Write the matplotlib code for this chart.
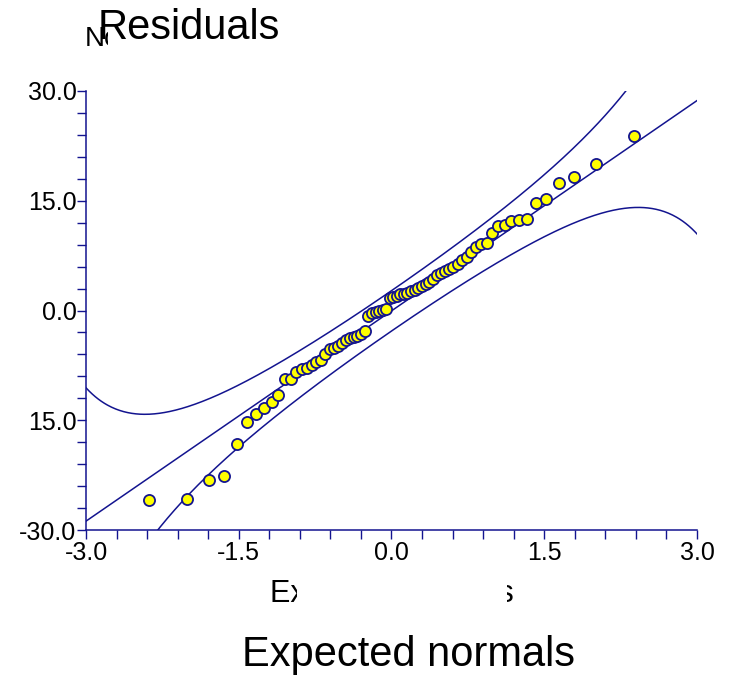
import math
import matplotlib
matplotlib.use("Agg")
import matplotlib.pyplot as plt
import numpy as np
from matplotlib.patches import Rectangle

plt.rcParams["font.family"] = ["Liberation Sans", "DejaVu Sans"]

# expected normal scores (x) and sorted residuals (y)
expected = [-2.380, -2.005, -1.795, -1.643, -1.522, -1.420, -1.330, -1.251,
            -1.178, -1.111, -1.049, -0.991, -0.936, -0.883, -0.833, -0.785,
            -0.738, -0.693, -0.650, -0.608, -0.567, -0.526, -0.487, -0.448,
            -0.410, -0.372, -0.336, -0.299, -0.263, -0.228, -0.192, -0.157,
            -0.122, -0.087, -0.052, -0.017,
            0.017, 0.052, 0.087, 0.122, 0.157, 0.192, 0.228, 0.263,
            0.299, 0.336, 0.372, 0.410, 0.448, 0.487, 0.526, 0.567,
            0.608, 0.650, 0.693, 0.738, 0.785, 0.833, 0.883, 0.936,
            0.991, 1.049, 1.111, 1.178, 1.251, 1.330, 1.420, 1.522,
            1.643, 1.795, 2.005, 2.380]
residuals = [-25.9, -25.7, -23.2, -22.6, -18.2, -15.2, -14.1, -13.3,
             -12.5, -11.5, -9.4, -9.3, -8.4, -8.05, -7.8, -7.45,
             -7.1, -6.7, -6.0, -5.3, -5.15, -4.85, -4.4, -4.1,
             -3.8, -3.6, -3.45, -3.2, -2.8, -0.7, -0.35, -0.15,
             -0.1, 0.05, 0.2, 1.75,
             1.9, 2.05, 2.2, 2.3, 2.45, 2.6, 2.8, 3.05,
             3.4, 3.65, 3.9, 4.3, 4.9, 5.1, 5.35, 5.65,
             5.95, 6.3, 6.85, 7.3, 8.0, 8.7, 9.1, 9.2,
             10.6, 11.5, 11.7, 12.2, 12.4, 12.5, 14.65, 15.2,
             17.4, 18.2, 20.0, 23.9]

# fitted line and width factor of the confidence band
line_intercept = -0.05
line_slope = 9.58
band_scale = 2.2

xticks = [-3.0, -1.5, 0.0, 1.5, 3.0]
xtick_labels = ["-3.0", "-1.5", "0.0", "1.5", "3.0"]
yticks = [-30.0, -15.0, 0.0, 15.0, 30.0]
ytick_labels = ["-30.0", "15.0", "0.0", "15.0", "30.0"]

navy = "#13148f"
W, H = 730, 678

fig = plt.figure(figsize=(W / 100, H / 100), dpi=100)
ax = fig.add_axes([86 / W, 1 - 530 / H, (697 - 86) / W, (530 - 91) / H])

xs = np.linspace(-3, 3, 600)
cdf = np.array([0.5 * (1 + math.erf(v / math.sqrt(2))) for v in xs])
pdf = np.exp(-xs ** 2 / 2) / math.sqrt(2 * math.pi)
fit = line_intercept + line_slope * xs
half = band_scale * np.sqrt(cdf * (1 - cdf)) / pdf

ax.plot(xs, fit, color=navy, lw=1.1)
ax.plot(xs, fit + half, color=navy, lw=1.1)
ax.plot(xs, fit - half, color=navy, lw=1.1)
ax.scatter(expected, residuals, s=64, facecolor="#ffff00", edgecolor=navy,
           linewidths=1.3, zorder=3)

ax.set_xlim(-3, 3)
ax.set_ylim(-30, 30)
ax.set_xticks(xticks)
ax.set_xticklabels(xtick_labels)
ax.set_yticks(yticks)
ax.set_yticklabels(ytick_labels)
ax.set_xticks(np.arange(-3, 3.01, 0.3), minor=True)
ax.set_yticks(np.arange(-30, 30.01, 3), minor=True)
for s in ["top", "right"]:
    ax.spines[s].set_visible(False)
for s in ["left", "bottom"]:
    ax.spines[s].set_color(navy)
    ax.spines[s].set_linewidth(1.1)
ax.tick_params(which="both", direction="out", length=6.3, width=1.0,
               color=navy, labelsize=18, labelcolor="black")
ax.tick_params(axis="y", pad=0.5)
ax.tick_params(axis="x", pad=1.5)

# title block at the top left, partly covering an older label
fig.text(85 / W, 1 - 39 / H, "No", fontsize=20, va="center", ha="left", zorder=1)
fig.patches.append(Rectangle((108 / W, 1 - 55 / H), 200 / W, 35 / H,
                             transform=fig.transFigure, facecolor="white",
                             edgecolor="none", zorder=2))
fig.text(98 / W, 1 - 28 / H, "Residuals", fontsize=30, va="center", ha="left", zorder=3)

# axis label, mostly hidden, and the big label below it
fig.text(392 / W, 1 - 594 / H, "Expected normals", fontsize=22, va="center",
         ha="center", zorder=1)
fig.patches.append(Rectangle((297 / W, 1 - 615 / H), 210 / W, 40 / H,
                             transform=fig.transFigure, facecolor="white",
                             edgecolor="none", zorder=2))
fig.text(408 / W, 1 - 655 / H, "Expected normals", fontsize=30, va="center",
         ha="center", zorder=3)

fig.savefig("out.png", dpi=100)
